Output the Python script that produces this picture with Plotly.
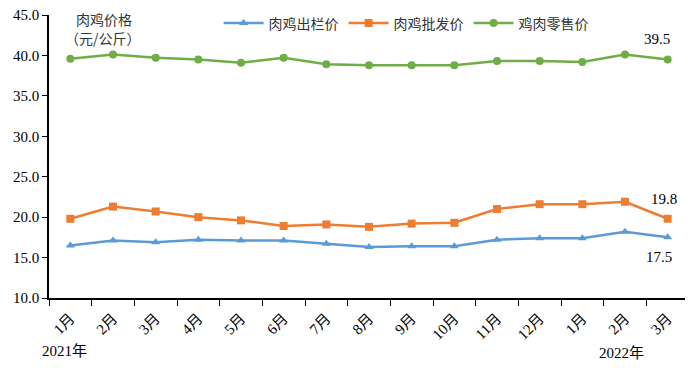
import plotly.graph_objects as go

months = ["1月","2月","3月","4月","5月","6月","7月","8月","9月","10月","11月","12月","1月 ","2月 ","3月 "]
tick_text = ["1月","2月","3月","4月","5月","6月","7月","8月","9月","10月","11月","12月","1月","2月","3月"]
chuLan = [16.5, 17.1, 16.9, 17.2, 17.1, 17.1, 16.7, 16.3, 16.4, 16.4, 17.2, 17.4, 17.4, 18.2, 17.5]
piFa = [19.8, 21.3, 20.7, 20.0, 19.6, 18.9, 19.1, 18.8, 19.2, 19.3, 21.0, 21.6, 21.6, 21.9, 19.8]
lingShou = [39.6, 40.1, 39.7, 39.5, 39.1, 39.7, 38.9, 38.8, 38.8, 38.8, 39.3, 39.3, 39.2, 40.1, 39.5]
names = ["肉鸡出栏价", "肉鸡批发价", "鸡肉零售价"]
colors = ["#5B9BD5", "#ED7D31", "#70AD47"]
symbols = ["triangle-up", "square", "circle"]

font_main = "Liberation Serif, Times New Roman, Noto Sans CJK SC, serif"
font_cjk = "Noto Sans CJK SC, sans-serif"

fig = go.Figure()
for name, vals, c, s in zip(names, [chuLan, piFa, lingShou], colors, symbols):
    fig.add_trace(go.Scatter(x=months, y=vals, name=name, mode="lines+markers",
                             line=dict(color=c, width=2.5),
                             marker=dict(symbol=s, size=8, color=c)))

fig.update_layout(
    width=693, height=368,
    margin=dict(l=41, r=12, t=7, b=78, autoexpand=False),
    paper_bgcolor="white", plot_bgcolor="white",
    font=dict(family=font_main, size=14, color="black"),
    showlegend=True,
    legend=dict(orientation="h", x=0.265, y=0.97, xanchor="left", yanchor="middle",
                font=dict(family=font_cjk, size=14, color="#333333"),
                itemwidth=40, tracegroupgap=0, bgcolor="rgba(0,0,0,0)"),
    xaxis=dict(type="category", range=[-0.5, 14.5], tickmode="array",
               tickvals=months, ticktext=tick_text, tickangle=-45,
               tickson="boundaries", ticks="outside", ticklen=6, tickcolor="black",
               showline=True, linecolor="black", linewidth=1.5, showgrid=False,
               automargin=False, ticklabelstandoff=4,
               tickfont=dict(family=font_main, size=15)),
    yaxis=dict(range=[10, 45], tickvals=[10, 15, 20, 25, 30, 35, 40, 45],
               ticktext=["10.0","15.0","20.0","25.0","30.0","35.0","40.0","45.0"],
               ticks="outside", ticklen=5, tickcolor="black",
               showline=True, linecolor="black", linewidth=1.5, showgrid=False,
               zeroline=False, automargin=False, ticklabeloverflow="allow",
               tickfont=dict(family=font_main, size=15)),
)

ann = [
    dict(text="肉鸡价格", x=104, y=17, font=dict(family=font_cjk, size=14, color="#333333")),
    dict(text="（元/公斤）", x=103, y=36, font=dict(family=font_cjk, size=14, color="#333333")),
    dict(text="2021年", x=64, y=350, font=dict(family=font_main, size=15)),
    dict(text="2022年", x=621, y=352, font=dict(family=font_main, size=15)),
]
for a in ann:
    fig.add_annotation(text=a["text"], xref="paper", yref="paper",
                       x=(a["x"] - 49) / 640, y=(297 - a["y"]) / 284,
                       showarrow=False, xanchor="center", yanchor="middle", font=a["font"])

fig.add_annotation(x=months[-1], y=lingShou[-1], text=f"{lingShou[-1]:.1f}", showarrow=False,
                   xshift=-11, yshift=20, font=dict(family=font_main, size=15))
fig.add_annotation(x=months[-1], y=piFa[-1], text=f"{piFa[-1]:.1f}", showarrow=False,
                   xshift=-4, yshift=20, font=dict(family=font_main, size=15))
fig.add_annotation(x=months[-1], y=chuLan[-1], text=f"{chuLan[-1]:.1f}", showarrow=False,
                   xshift=-9, yshift=-20, font=dict(family=font_main, size=15))

fig.write_html("out.html")
